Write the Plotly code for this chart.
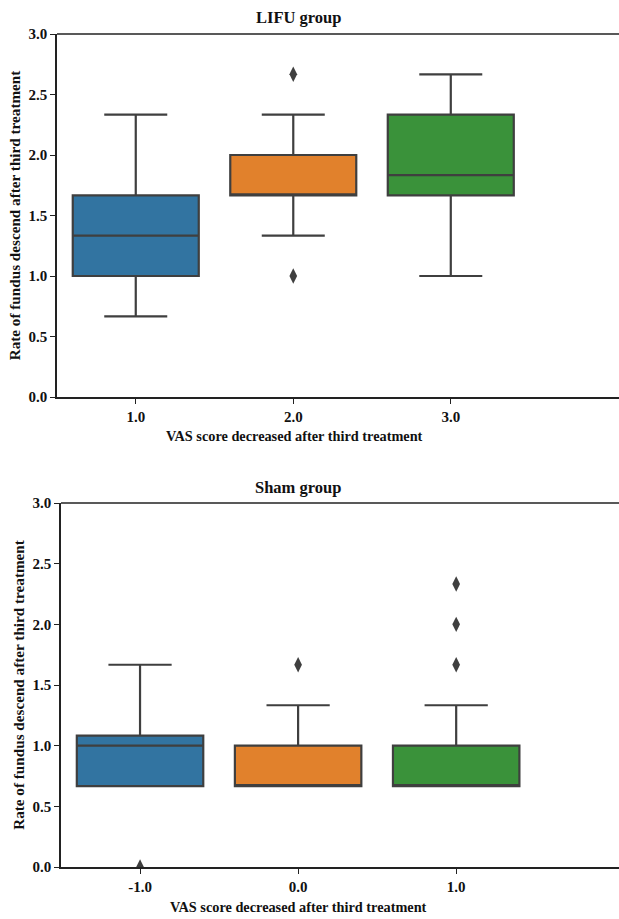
import plotly.graph_objects as go

# ---- data ----
lifu_cats = ["1.0", "2.0", "3.0"]
lifu_low = [0.667, 1.333, 1.0]
lifu_q1 = [1.0, 1.667, 1.667]
lifu_med = [1.333, 1.667, 1.833]
lifu_q3 = [1.667, 2.0, 2.333]
lifu_high = [2.333, 2.333, 2.667]
lifu_out_x = ["2.0", "2.0"]
lifu_out_y = [2.667, 1.0]

sham_cats = ["-1.0", "0.0", "1.0"]
sham_low = [0.667, 0.667, 0.667]
sham_q1 = [0.667, 0.667, 0.667]
sham_med = [1.0, 0.667, 0.667]
sham_q3 = [1.083, 1.0, 1.0]
sham_high = [1.667, 1.333, 1.333]
sham_out_x = ["-1.0", "0.0", "1.0", "1.0", "1.0"]
sham_out_y = [0.0, 1.667, 1.667, 2.0, 2.333]

x_title = "VAS score decreased after third treatment"
y_title = "Rate of fundus descend after third treatment"

colors = ["#3274a1", "#e1812c", "#3a923a"]
line_col = "#3f3f3f"
FONT = "Liberation Serif"

fig = go.Figure()


def add_group(cats, low, q1, med, q3, high, ox, oy, xa, ya):
    for i, c in enumerate(cats):
        fig.add_trace(go.Box(
            x=[c], q1=[q1[i]], median=[med[i]], q3=[q3[i]],
            lowerfence=[low[i]], upperfence=[high[i]],
            fillcolor=colors[i], line=dict(color=line_col, width=2.2),
            width=0.8, whiskerwidth=0.5, boxpoints=False,
            xaxis=xa, yaxis=ya, showlegend=False, hoverinfo="skip",
        ))
    fig.add_trace(go.Scatter(
        x=ox, y=oy, mode="markers",
        marker=dict(symbol="diamond-tall", size=11, color=line_col, line=dict(width=0)),
        xaxis=xa, yaxis=ya, showlegend=False, cliponaxis=True, hoverinfo="skip",
    ))


add_group(lifu_cats, lifu_low, lifu_q1, lifu_med, lifu_q3, lifu_high,
          lifu_out_x, lifu_out_y, "x", "y")
add_group(sham_cats, sham_low, sham_q1, sham_med, sham_q3, sham_high,
          sham_out_x, sham_out_y, "x2", "y2")

W, H = 619, 919
tickfont = dict(family=FONT, size=15, color="#111", weight="bold")
titlefont_x = dict(family=FONT, size=14.3, color="#111", weight="bold")
titlefont_y = dict(family=FONT, size=15.2, color="#111", weight="bold")

common_x = dict(type="category", showline=True, linecolor="#222", linewidth=1.5,
                ticks="outside", ticklen=5, tickwidth=1.3, tickcolor="#222",
                showgrid=False, zeroline=False, tickfont=tickfont, automargin=False)
common_y = dict(range=[0, 3], showline=True, linecolor="#222", linewidth=1.5,
                ticks="outside", ticklen=5, tickwidth=1.3, tickcolor="#222",
                showgrid=False, zeroline=False, tickfont=tickfont, automargin=False,
                tickvals=[0, 0.5, 1, 1.5, 2, 2.5, 3], tickformat=".1f",
                title=dict(text=y_title, font=titlefont_y, standoff=4))

title_font = dict(family=FONT, size=16.5, color="#111", weight="bold")

fig.update_layout(
    width=W, height=H, margin=dict(l=0, r=0, t=0, b=0),
    plot_bgcolor="white", paper_bgcolor="white",
    xaxis=dict(common_x, domain=[57 / W, 1.0], anchor="y", range=[-0.5, 3.068]),
    yaxis=dict(common_y, domain=[1 - 397 / H, 1 - 34 / H], anchor="x"),
    xaxis2=dict(common_x, domain=[61 / W, 1.0], anchor="y2", range=[-0.5, 3.03]),
    yaxis2=dict(common_y, domain=[1 - 867 / H, 1 - 503 / H], anchor="x2"),
    shapes=[
        dict(type="line", xref="x domain", yref="y domain", x0=0, x1=1, y0=1, y1=1,
             line=dict(color="#222", width=1.5)),
        dict(type="line", xref="x2 domain", yref="y2 domain", x0=0, x1=1, y0=1, y1=1,
             line=dict(color="#222", width=1.5)),
    ],
    annotations=[
        dict(text="LIFU group", xref="paper", yref="paper", x=298 / W, y=1 - 18 / H,
             showarrow=False, font=title_font, xanchor="center", yanchor="middle"),
        dict(text="Sham group", xref="paper", yref="paper", x=298 / W, y=1 - 488 / H,
             showarrow=False, font=title_font, xanchor="center", yanchor="middle"),
        dict(text=x_title, xref="paper", yref="paper", x=294 / W, y=1 - 436 / H,
             showarrow=False, font=titlefont_x, xanchor="center", yanchor="middle"),
        dict(text=x_title, xref="paper", yref="paper", x=298 / W, y=1 - 907 / H,
             showarrow=False, font=titlefont_x, xanchor="center", yanchor="middle"),
    ],
)

fig.write_html("out.html", config={"displayModeBar": False},
               post_script="document.body.style.margin='0'")
